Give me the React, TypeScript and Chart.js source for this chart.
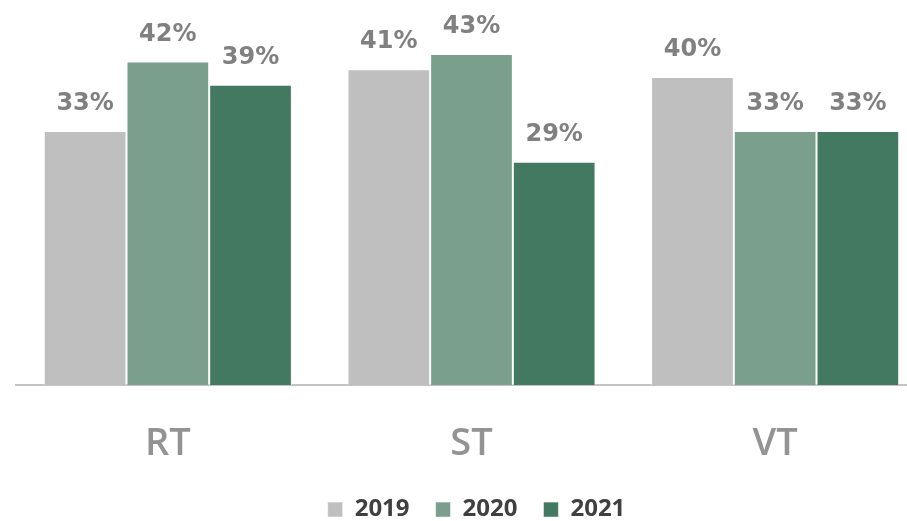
import React, { useEffect, useRef } from "react";
import { Chart, registerables } from "chart.js";

Chart.register(...registerables);

const categories = ["RT", "ST", "VT"];
const seriesNames = ["2019", "2020", "2021"];
const values2019 = [33, 41, 40];
const values2020 = [42, 43, 33];
const values2021 = [39, 29, 33];
const colors = ["#BFBFBF", "#7B9F8D", "#437960"];

const FONT = "'Open Sans', sans-serif";
const LABEL_FONT = "'DejaVu Sans', sans-serif";

const valueLabels = {
  id: "valueLabels",
  afterDatasetsDraw(chart: any) {
    const ctx = chart.ctx;
    ctx.save();
    ctx.font = `bold 24px ${LABEL_FONT}`;
    ctx.fillStyle = "#808080";
    ctx.textAlign = "center";
    ctx.textBaseline = "alphabetic";
    chart.data.datasets.forEach((ds: any, i: number) => {
      const meta = chart.getDatasetMeta(i);
      meta.data.forEach((bar: any, j: number) => {
        ctx.fillText(ds.data[j] + "%", bar.x, bar.y - 21);
      });
    });
    ctx.restore();
  },
};

// pull the legend up closer to the category labels and nudge it right
const liftLegend = {
  id: "liftLegend",
  afterLayout(chart: any) {
    const l = chart.legend;
    if (l) {
      l.top -= 32;
      l.bottom -= 32;
      l.left += 5;
      l.right += 5;
    }
  },
};

export default function App() {
  const ref = useRef<HTMLCanvasElement>(null);
  useEffect(() => {
    const chart = new Chart(ref.current!, {
      type: "bar",
      data: {
        labels: categories,
        datasets: [values2019, values2020, values2021].map((d, i) => ({
          label: seriesNames[i],
          data: d,
          backgroundColor: colors[i],
          borderColor: "rgba(255,255,255,0.55)",
          borderWidth: 1,
          categoryPercentage: 0.817,
          barPercentage: 1,
        })),
      },
      options: {
        animation: false,
        responsive: true,
        maintainAspectRatio: false,
        layout: { padding: { left: 16, right: 36, top: 0, bottom: -42.6 } },
        scales: {
          x: {
            grid: { display: false, drawTicks: false },
            border: { display: true, color: "#C4C4C4", width: 2 },
            ticks: {
              color: "#939393",
              font: { family: FONT, size: 38, weight: "600" },
              padding: 36.5,
            },
          },
          y: {
            display: false,
            min: 0,
            max: 50,
          },
        },
        plugins: {
          legend: {
            position: "bottom",
            labels: {
              boxWidth: 15,
              boxHeight: 15,
              padding: 26,
              color: "#404040",
              font: { family: FONT, size: 24, weight: "bold" },
            },
          },
          tooltip: { enabled: false },
        },
      },
      plugins: [valueLabels, liftLegend],
    });
    return () => chart.destroy();
  }, []);
  return (
    <div
      style={{
        position: "fixed",
        left: 0,
        top: 0,
        width: 907,
        height: 521,
        overflow: "hidden",
        background: "#fff",
      }}
    >
      <div style={{ width: 963, height: 521, position: "relative" }}>
        <canvas ref={ref} />
      </div>
    </div>
  );
}
